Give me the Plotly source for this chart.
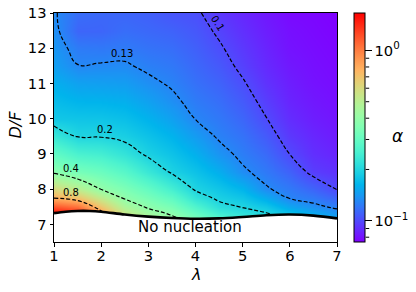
import math
import plotly.graph_objects as go

# ---------------- data ----------------
lam = [1.0, 1.5, 2.0, 2.5, 3.0, 3.5, 4.0, 4.5, 5.0, 5.5, 6.0, 6.5, 7.0]
df_rows = [6.5, 7.0, 7.25, 7.5, 7.75, 8.0, 8.5, 9.0, 9.5, 10.0, 10.5, 11.0, 11.5, 12.0, 12.5, 13.0]

# log10(alpha), one row per D/F value, one column per lambda value
log_alpha = [
    [0.44, 0.41, 0.094, -0.155, -0.259, -0.36, -0.42, -0.513, -0.588, -0.63, -0.64, -0.71, -0.78],
    [0.44, 0.41, 0.094, -0.155, -0.259, -0.36, -0.42, -0.513, -0.588, -0.63, -0.64, -0.71, -0.78],
    [0.26, 0.22, -0.03, -0.243, -0.34, -0.398, -0.498, -0.592, -0.647, -0.68, -0.73, -0.79, -0.84],
    [0.077, 0.027, -0.155, -0.331, -0.413, -0.468, -0.577, -0.671, -0.704, -0.74, -0.818, -0.867, -0.901],
    [-0.102, -0.149, -0.279, -0.41, -0.469, -0.537, -0.655, -0.717, -0.746, -0.809, -0.891, -0.914, -0.954],
    [-0.216, -0.294, -0.40, -0.459, -0.524, -0.607, -0.709, -0.745, -0.789, -0.878, -0.913, -0.951, -1.003],
    [-0.42, -0.474, -0.504, -0.557, -0.635, -0.712, -0.754, -0.802, -0.874, -0.913, -0.957, -1.02, -1.04],
    [-0.53, -0.592, -0.608, -0.654, -0.715, -0.752, -0.799, -0.859, -0.905, -0.941, -1.001, -1.045, -1.065],
    [-0.64, -0.703, -0.704, -0.721, -0.754, -0.791, -0.844, -0.896, -0.927, -0.97, -1.03, -1.06, -1.08],
    [-0.74, -0.746, -0.748, -0.761, -0.792, -0.831, -0.888, -0.915, -0.949, -0.998, -1.05, -1.075, -1.09],
    [-0.77, -0.789, -0.792, -0.801, -0.831, -0.870, -0.91, -0.934, -0.971, -1.02, -1.065, -1.085, -1.10],
    [-0.80, -0.831, -0.836, -0.841, -0.870, -0.895, -0.93, -0.954, -0.993, -1.04, -1.075, -1.095, -1.105],
    [-0.835, -0.884, -0.880, -0.878, -0.90, -0.915, -0.945, -0.973, -1.015, -1.055, -1.085, -1.10, -1.11],
    [-0.855, -0.909, -0.915, -0.91, -0.925, -0.935, -0.96, -0.992, -1.03, -1.065, -1.095, -1.105, -1.115],
    [-0.868, -0.95, -0.95, -0.935, -0.945, -0.955, -0.975, -1.01, -1.045, -1.075, -1.10, -1.11, -1.12],
    [-0.878, -0.935, -0.945, -0.95, -0.96, -0.98, -0.99, -1.03, -1.06, -1.085, -1.11, -1.115, -1.125],
]

boundary_lam = [1.0, 1.25, 1.5, 1.75, 2.0, 2.5, 3.0, 3.5, 4.0, 4.5, 5.0, 5.5, 6.0, 6.5, 7.0]
boundary_df = [7.32, 7.36, 7.38, 7.38, 7.36, 7.28, 7.22, 7.18, 7.16, 7.17, 7.21, 7.26, 7.28, 7.25, 7.17]

contour_levels = [0.1, 0.13, 0.2, 0.4, 0.8]
contour_texts = ["0.1", "0.13", "0.2", "0.4", "0.8"]

x_ticks = [1, 2, 3, 4, 5, 6, 7]
y_ticks = [7, 8, 9, 10, 11, 12, 13]
cbar_major = [0.1, 1.0]
cbar_major_text = ["10<sup>\u22121</sup>", "10<sup>0</sup>"]
cbar_minor = [0.08, 0.09, 0.2, 0.3, 0.4, 0.5, 0.6, 0.7, 0.8, 0.9]

# ---------------- style ----------------
FONT = "DejaVu Sans"
ZMIN, ZMAX = -1.125, 0.22
W, H = 416, 292
ML, MR, MT, MB = 54, 79, 13, 50
PW = W - ML - MR
PH = H - MT - MB


def rainbow(t):
    r = min(1.0, abs(2 * t - 0.5))
    g = math.sin(math.pi * t)
    b = max(0.0, math.cos(math.pi * t / 2))
    return "rgb(%d,%d,%d)" % (round(r * 255), round(g * 255), round(b * 255))


cscale = [[i / 20, rainbow(i / 20)] for i in range(21)]

cb_x = (354.3 - ML) / PW
cb_th = 11.4

fig = go.Figure()
fig.add_trace(go.Heatmap(
    x=lam, y=df_rows, z=log_alpha, zmin=ZMIN, zmax=ZMAX,
    colorscale=cscale, zsmooth="best", hoverinfo="skip",
    colorbar=dict(
        x=cb_x, xanchor="left", y=0.5, yanchor="middle", len=1, lenmode="fraction",
        thickness=cb_th, thicknessmode="pixels", xpad=0, ypad=0,
        outlinewidth=1, outlinecolor="black",
        tickvals=[math.log10(v) for v in cbar_major], ticktext=cbar_major_text,
        ticks="outside", ticklen=6.5, tickwidth=1, tickcolor="black",
        tickfont=dict(family=FONT, size=14.7, color="black"),
    ),
))

for lev in contour_levels:
    lv = math.log10(lev)
    fig.add_trace(go.Contour(
        x=lam, y=df_rows, z=log_alpha,
        contours=dict(start=lv, end=lv, size=1, coloring="none", showlabels=False),
        line=dict(color="black", width=1.2, dash="4px,2px", smoothing=1.3),
        showscale=False, hoverinfo="skip",
    ))

fig.add_trace(go.Scatter(
    x=boundary_lam, y=boundary_df, mode="lines",
    line=dict(color="black", width=2.6, shape="spline"),
    fill="tozeroy", fillcolor="white", hoverinfo="skip", showlegend=False,
))

# contour labels (position in data coords, rotation)
label_pos = [(4.48, 12.71, 58), (2.45, 11.86, 0), (2.08, 9.70, 0), (1.36, 8.59, 0), (1.36, 7.91, 0)]
annotations = []
for txt, (lx, ly, ang) in zip(contour_texts, label_pos):
    annotations.append(dict(x=lx, y=ly, xref="x", yref="y", text=txt, showarrow=False,
                            textangle=ang, font=dict(family=FONT, size=10, color="black")))

annotations.append(dict(x=3.88, y=6.93, xref="x", yref="y", text="No nucleation", showarrow=False,
                        font=dict(family=FONT, size=15, color="black")))
annotations.append(dict(x=0.5, y=-(274 - (MT + PH)) / PH, xref="paper", yref="paper",
                        text="<i>\u03bb</i>", showarrow=False, yanchor="middle",
                        font=dict(family=FONT, size=16, color="black")))
annotations.append(dict(x=(14.5 - ML) / PW, y=(MT + PH - 125) / PH, xref="paper", yref="paper",
                        text="<i>D/F</i>", showarrow=False, textangle=-90,
                        xanchor="center", yanchor="middle",
                        font=dict(family=FONT, size=16, color="black")))
annotations.append(dict(x=(397 - ML) / PW, y=(MT + PH - 136) / PH, xref="paper", yref="paper",
                        text="<i>\u03b1</i>", showarrow=False, xanchor="center", yanchor="middle",
                        font=dict(family=FONT, size=17, color="black")))

# colorbar minor ticks
shapes = []
cb_right = cb_x + cb_th / PW
for v in cbar_minor:
    yp = (math.log10(v) - ZMIN) / (ZMAX - ZMIN)
    shapes.append(dict(type="line", xref="paper", yref="paper", x0=cb_right, x1=cb_right + 3.5 / PW,
                       y0=yp, y1=yp, line=dict(color="black", width=1)))

axis_common = dict(showgrid=False, zeroline=False, showline=True, mirror=True, linecolor="black",
                   linewidth=1, ticks="outside", ticklen=3.5, tickwidth=1, tickcolor="black",
                   tickfont=dict(family=FONT, size=14.7, color="black"))

fig.update_layout(
    width=W, height=H, margin=dict(l=ML, r=MR, t=MT, b=MB, autoexpand=False),
    paper_bgcolor="white", plot_bgcolor="white", showlegend=False,
    xaxis=dict(range=[1, 7], tickvals=x_ticks, ticklabelstandoff=-3, **axis_common),
    yaxis=dict(range=[6.5, 13], tickvals=y_ticks, **axis_common),
    annotations=annotations, shapes=shapes,
    font=dict(family=FONT),
)

fig.write_html("out.html", config={"displayModeBar": False},
               post_script="document.body.style.margin='0';document.body.style.overflow='hidden';")
